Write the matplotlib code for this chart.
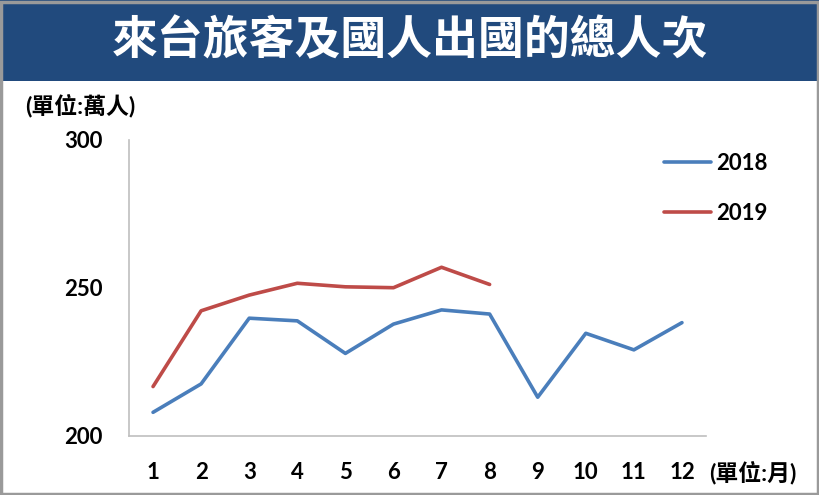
import matplotlib
matplotlib.use("Agg")
import matplotlib.pyplot as plt
from matplotlib.patches import Rectangle

plt.rcParams['font.family'] = ['Lato', 'Noto Sans CJK TC', 'DejaVu Sans']

title = "來台旅客及國人出國的總人次"
y_unit = "(單位:萬人)"
x_unit = "(單位:月)"
months = [1, 2, 3, 4, 5, 6, 7, 8, 9, 10, 11, 12]
month_labels = [str(m) for m in months]
s2018 = [208.0, 217.6, 239.8, 238.9, 227.9, 237.8, 242.6, 241.2, 213.1, 234.7, 229.1, 238.3]
months_2019 = [1, 2, 3, 4, 5, 6, 7, 8]
s2019 = [216.7, 242.3, 247.6, 251.6, 250.4, 250.1, 257.0, 251.2]
y_ticks = [200, 250, 300]

W, H = 820, 495
fig = plt.figure(figsize=(W / 100, H / 100), dpi=100)
fig.patch.set_facecolor('white')

# banner
fig.patches.append(Rectangle((0, 1 - 81 / H), 1, 81 / H, transform=fig.transFigure,
                             facecolor='#214a7d', edgecolor='none', zorder=0))
# border
fig.patches.append(Rectangle((1.5 / W, 1.5 / H), 1 - 3 / W, 1 - 3 / H, transform=fig.transFigure,
                             facecolor='none', edgecolor='#9a9a9a', linewidth=2.5, zorder=5))
fig.text(0.5, 1 - 41 / H, title, color='white', fontsize=33, fontweight='bold',
         ha='center', va='center', family=['Noto Sans CJK TC'])

ax = fig.add_axes([129 / W, 1 - 436 / H, (706 - 129) / W, (436 - 140) / H])
ax.plot(months, s2018, color='#4a7ebb', linewidth=2.6, label='2018', solid_capstyle='round')
ax.plot(months_2019, s2019, color='#be4b48', linewidth=2.6, label='2019', solid_capstyle='round')

ax.set_xlim(0.5, 12.5)
ax.set_ylim(200, 300)
ax.set_xticks(months)
ax.set_xticklabels(month_labels)
ax.set_yticks(y_ticks)
ax.tick_params(axis='both', length=0, labelsize=16)
ax.tick_params(axis='y', pad=19)
ax.tick_params(axis='x', pad=19)
for lab in ax.get_xticklabels() + ax.get_yticklabels():
    lab.set_fontweight('bold')
for sp in ['top', 'right']:
    ax.spines[sp].set_visible(False)
for sp in ['left', 'bottom']:
    ax.spines[sp].set_color('#bfbfbf')
    ax.spines[sp].set_linewidth(1.2)

fig.text(25 / W, 1 - 106 / H, y_unit, fontsize=16.5, fontweight='bold', ha='left', va='center')
fig.text(709 / W, 1 - 473 / H, x_unit, fontsize=16.5, fontweight='bold', ha='left', va='center')

leg = ax.legend(loc='upper left', bbox_to_anchor=(664 / W, 1 - 153 / H),
                bbox_transform=fig.transFigure, frameon=False, fontsize=16,
                handlelength=2.1, handletextpad=0.25, labelspacing=1.3, borderpad=0, borderaxespad=0)
for t in leg.get_texts():
    t.set_fontweight('bold')

fig.savefig('out.png', dpi=100, facecolor='white')
